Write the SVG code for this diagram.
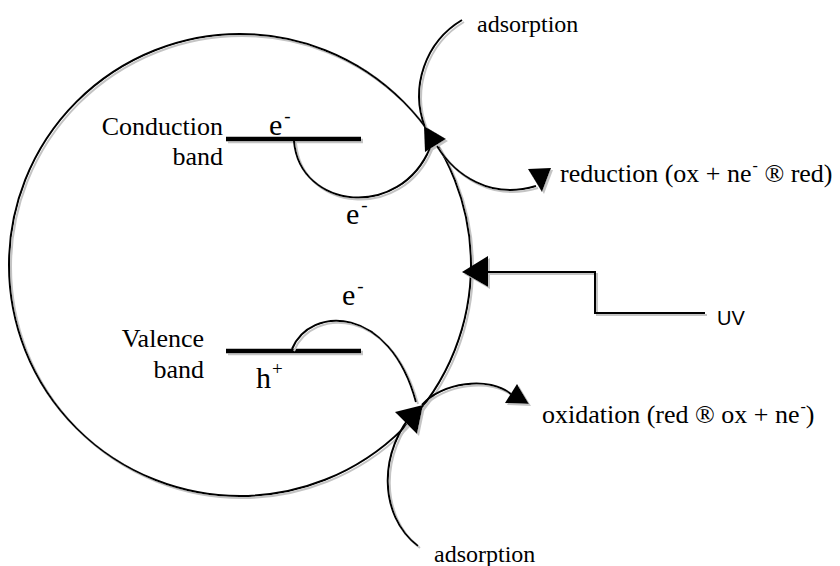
<svg xmlns="http://www.w3.org/2000/svg" width="840" height="566" viewBox="0 0 840 566">
<defs>
<filter id="sh" filterUnits="userSpaceOnUse" x="0" y="0" width="840" height="566">
<feOffset in="SourceAlpha" dx="1.5" dy="2" result="o"/>
<feFlood flood-color="#c4c4c4"/>
<feComposite in2="o" operator="in"/>
<feMerge><feMergeNode/><feMergeNode in="SourceGraphic"/></feMerge>
</filter>
</defs>
<style>
.ln{fill:none;stroke:#000;stroke-width:2}
.band{stroke:#000;stroke-width:4.5}
.hd{fill:#000;stroke:none}
.t{font-family:"Liberation Serif","Times New Roman",serif;font-size:26px;fill:#000}
.s{font-size:24px}
.big{font-size:30px}
.sup{font-size:16px}
.sup2{font-size:19px}
.uv{font-family:"Liberation Sans",Arial,sans-serif;font-size:20px;fill:#000}
</style>
<rect width="840" height="566" fill="#fff"/>
<g id="particle" filter="url(#sh)">
<circle cx="240" cy="265" r="231" class="ln"/>
</g>
<g id="conduction-band" filter="url(#sh)">
<line x1="226" y1="139" x2="361" y2="139" class="band"/>
</g>
<g id="valence-band" filter="url(#sh)">
<line x1="226" y1="351" x2="361" y2="351" class="band"/>
</g>
<g id="connectors" filter="url(#sh)">
<path class="ln" d="M294,141 C300,210 400,220 430,148"/>
<path class="ln" d="M462,20 A88,88 0 0 0 425,127"/>
<path class="ln" d="M437,146 C455,175 490,200 536,186"/>
<path class="ln" d="M292,349 C310,305 390,305 416,402"/>
<path class="ln" d="M418,546 C378,515 378,450 416,410"/>
<path class="ln" d="M422,405 C440,383 490,375 512,395"/>
<polyline class="ln" points="705,313 595,313 595,272 486,272"/>
<polygon class="hd" points="424,126 446,139 425,152"/>
<polygon class="hd" points="528,169 551,168 542,192"/>
<polygon class="hd" points="395,412 423,405 417,434"/>
<polygon class="hd" points="505,403 517,384 529,404"/>
<polygon class="hd" points="462,272 488,256 488,287"/>
</g>
<g id="labels">
<text class="t" x="223" y="135" text-anchor="end">Conduction</text>
<text class="t" x="223" y="165" text-anchor="end">band</text>
<text class="t" x="204" y="347" text-anchor="end">Valence</text>
<text class="t" x="204" y="378" text-anchor="end">band</text>
<text class="t big" x="269" y="135">e<tspan class="sup2" dx="2" dy="-13">-</tspan></text>
<text class="t big" x="346" y="224">e<tspan class="sup2" dx="2" dy="-13">-</tspan></text>
<text class="t big" x="342" y="305">e<tspan class="sup2" dx="2" dy="-13">-</tspan></text>
<text class="t big" x="256" y="388">h<tspan class="sup2" dx="1" dy="-13">+</tspan></text>
<text class="t s" x="477" y="32">adsorption</text>
<text class="t s" x="434" y="562">adsorption</text>
<text class="t" x="560" y="182">reduction (ox + ne<tspan class="sup" dx="1" dy="-11">-</tspan><tspan dy="11"> ® red)</tspan></text>
<text class="t" x="542" y="423">oxidation (red ® ox + ne<tspan class="sup" dx="1" dy="-11">-</tspan><tspan dy="11">)</tspan></text>
<text class="uv" x="717" y="325">UV</text>
</g>
</svg>
